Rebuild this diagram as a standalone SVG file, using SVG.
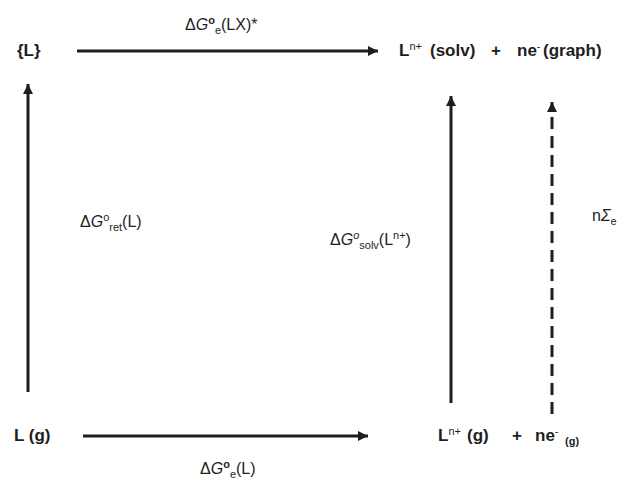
<svg xmlns="http://www.w3.org/2000/svg" width="624" height="480" viewBox="0 0 624 480">
<style>
  .b { font-family: "Liberation Sans", Arial, sans-serif; font-weight: bold; font-size: 17px; fill: #1e1e1e; }
  .r { font-family: "Liberation Sans", Arial, sans-serif; font-size: 16px; fill: #1e1e1e; }
  .sup { font-size: 11px; }
  .sub { font-size: 11px; }
  .b .sup { font-weight: normal; }
  .line { stroke: #1e1e1e; stroke-width: 3; fill: none; }
  .dash { stroke-dasharray: 12 7; }
</style>
<defs>
  <marker id="ah" viewBox="0 0 10 10" refX="10" refY="5" markerWidth="11" markerHeight="10" markerUnits="userSpaceOnUse" orient="auto">
    <path d="M0,0 L10,5 L0,10 z" fill="#1e1e1e"/>
  </marker>
</defs>
<g id="connectors">
  <path class="line" d="M77,51 H378" marker-end="url(#ah)"/>
  <path class="line" d="M83,436 H368" marker-end="url(#ah)"/>
  <path class="line" d="M28,392 V84" marker-end="url(#ah)"/>
  <path class="line" d="M451,403 V96" marker-end="url(#ah)"/>
  <path class="line dash" d="M552,414 V102" marker-end="url(#ah)"/>
</g>
<g id="node-L">
  <text class="b" x="17" y="56">{L}</text>
</g>
<g id="node-solv">
  <text class="b" y="56"><tspan x="399">L</tspan><tspan class="sup" dy="-6">n+</tspan><tspan x="430" dy="6">(solv)</tspan><tspan x="491">+</tspan><tspan x="517">ne</tspan><tspan class="sup" dy="-6">-</tspan><tspan x="543" dy="6">(graph)</tspan></text>
</g>
<g id="node-Lg">
  <text class="b" x="14" y="441">L (g)</text>
</g>
<g id="node-gas">
  <text class="b" y="441"><tspan x="438">L</tspan><tspan class="sup" dy="-6">n+</tspan><tspan x="467" dy="6">(g)</tspan><tspan x="512">+</tspan><tspan x="535">ne</tspan><tspan class="sup" dy="-6">-</tspan><tspan class="sub" font-weight="bold" x="565" dy="10">(g)</tspan></text>
</g>
<g id="labels">
  <text class="r" x="185" y="30">Δ<tspan font-style="italic">G</tspan><tspan class="sup" font-weight="bold" dy="-6">o</tspan><tspan class="sub" dy="10">e</tspan><tspan dy="-4">(LX)*</tspan></text>
  <text class="r" x="80" y="227">Δ<tspan font-style="italic">G</tspan><tspan class="sup" dy="-6">o</tspan><tspan class="sub" dy="10">ret</tspan><tspan dy="-4">(L)</tspan></text>
  <text class="r" x="330" y="245">Δ<tspan font-style="italic">G</tspan><tspan class="sup" font-style="italic" dy="-6">o</tspan><tspan class="sub" dy="10">solv</tspan><tspan dy="-4">(L</tspan><tspan class="sup" dy="-6">n+</tspan><tspan dy="6">)</tspan></text>
  <text class="r" x="592" y="221">n<tspan font-style="italic">Σ</tspan><tspan class="sub" dy="4">e</tspan></text>
  <text class="r" x="200" y="474">Δ<tspan font-style="italic">G</tspan><tspan class="sup" font-weight="bold" dy="-6">o</tspan><tspan class="sub" dy="10">e</tspan><tspan dy="-4">(L)</tspan></text>
</g>
</svg>
